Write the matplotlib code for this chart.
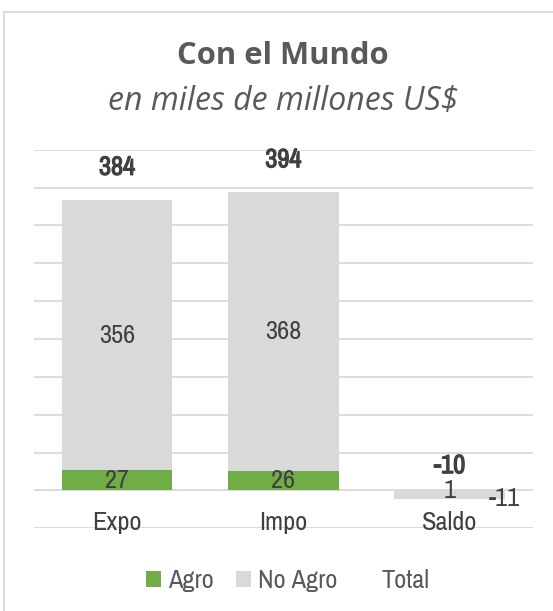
import matplotlib
matplotlib.use("Agg")
import matplotlib.pyplot as plt
import matplotlib.patheffects as pe
from matplotlib import font_manager
from matplotlib.patches import Patch, Rectangle

categories = ["Expo", "Impo", "Saldo"]
agro = [27, 26, 1]
no_agro = [356, 368, -11]
total = [384, 394, -10]
legend_labels = ["Agro", "No Agro", "Total"]

names = {f.name for f in font_manager.fontManager.ttflist}
narrow = "Archivo Narrow" if "Archivo Narrow" in names else "Liberation Sans"
title_font = "Open Sans"

GREEN = "#70AD47"
GRAY = "#D9D9D9"
TXT = "#404040"
TTL = "#595959"

W, H = 553, 611
fig = plt.figure(figsize=(W / 100, H / 100), dpi=100)
fig.patches.append(Rectangle((4 / W, -0.1), 1.2, 1 - 12 / H + 0.1, transform=fig.transFigure,
                             fill=False, edgecolor="#D9D9D9", linewidth=1.3))

ax = fig.add_axes([34 / W, 1 - 528.3 / H, 498.7 / W, 378.6 / H])
x = list(range(len(categories)))
bw = 0.664

ax.bar(x, agro, width=bw, color=GREEN, zorder=3)
bottoms = [a if n >= 0 else 0 for a, n in zip(agro, no_agro)]
ax.bar(x, no_agro, width=bw, bottom=bottoms, color=GRAY, zorder=3)

ax.set_xlim(-0.5, 2.5)
ax.set_ylim(-50, 450)
ax.set_yticks(range(-50, 451, 50))
ax.yaxis.grid(True, color="#D9D9D9", linewidth=1.3, zorder=0)
ax.set_axisbelow(True)
for s in ax.spines.values():
    s.set_visible(False)
ax.tick_params(left=False, bottom=False, labelleft=False, labelbottom=False)

fs = 19
bold = [pe.withStroke(linewidth=0.9, foreground=TXT)]
for i in x:
    ax.text(i, -42, categories[i], ha="center", va="center", fontsize=fs,
            family=narrow, color=TXT)

# data labels
for i in range(2):
    ax.text(i, agro[i] / 2, str(agro[i]), ha="center", va="center", fontsize=fs,
            family=narrow, color=TXT, zorder=5)
    ax.text(i, agro[i] + no_agro[i] / 2, str(no_agro[i]), ha="center", va="center",
            fontsize=fs, family=narrow, color=TXT, zorder=5)
ax.text(2, agro[2] / 2 - 1, str(agro[2]), ha="center", va="center", fontsize=fs,
        family=narrow, color=TXT, zorder=5)
ax.text(2.328, no_agro[2], str(no_agro[2]), ha="center", va="center", fontsize=fs,
        family=narrow, color=TXT, zorder=5)
for i in x:
    ax.annotate(str(total[i]), (i, total[i]), xytext=(0, 23.3), textcoords="offset points",
                ha="center", va="center", fontsize=fs, family=narrow,
                color=TXT, zorder=5, path_effects=bold)

cx = 283 / W
fig.text(cx, 1 - 56 / H, "Con el Mundo", ha="center", va="center", fontsize=22.3,
         fontweight="bold", family=title_font, color=TTL)
fig.text(cx, 1 - 101 / H, "en miles de millones US$", ha="center", va="center",
         fontsize=23, fontstyle="italic", family=title_font, color=TTL)

handles = [Patch(facecolor=GREEN), Patch(facecolor=GRAY),
           Patch(facecolor="none", edgecolor="none")]
leg = fig.legend(handles, legend_labels, loc="center", bbox_to_anchor=(288 / W, 1 - 581 / H),
                 ncol=3, frameon=False, handlelength=0.57, handleheight=0.57,
                 handletextpad=0.27, columnspacing=0.83, borderpad=0, borderaxespad=0,
                 prop={"family": narrow, "size": fs})
for t in leg.get_texts():
    t.set_color(TTL)

fig.savefig("out.png", dpi=100)
